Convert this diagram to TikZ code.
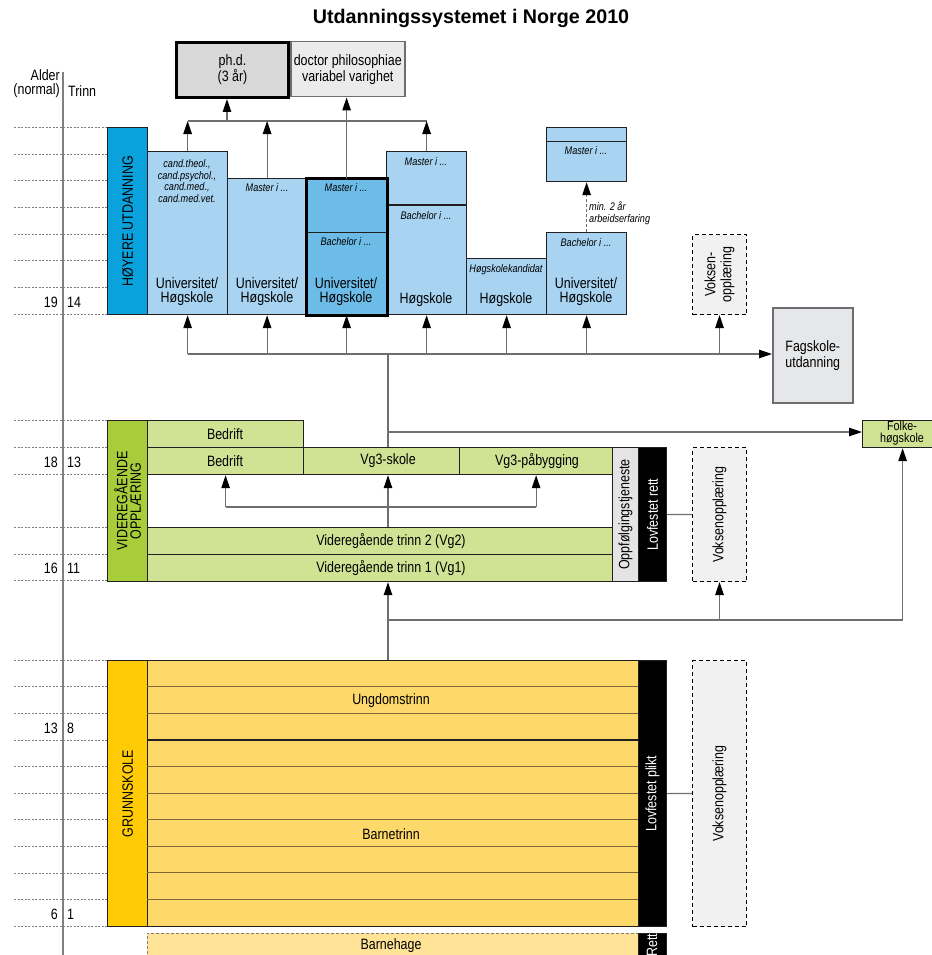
\documentclass[tikz,border=0pt]{standalone}
\usepackage{fontspec}
\setmainfont{Liberation Sans}[FakeStretch=0.83]
\newfontfamily\titlefont{Liberation Sans}
\usepackage{xcolor}
\definecolor{hoyblue}{HTML}{0AA2DC}
\definecolor{uhblue}{HTML}{A8D4F1}
\definecolor{uhdark}{HTML}{6DBCE7}
\definecolor{vgsgreen}{HTML}{A8CD3A}
\definecolor{vgslight}{HTML}{D0E294}
\definecolor{gsyellow}{HTML}{FFCB05}
\definecolor{gslight}{HTML}{FDD86B}
\definecolor{bhlight}{HTML}{FFE497}
\definecolor{phdgray}{HTML}{D8D8D9}
\definecolor{drgray}{HTML}{EBEBEC}
\definecolor{faggray}{HTML}{E6E7E8}
\definecolor{voxgray}{HTML}{F1F1F2}
\definecolor{oppgray}{HTML}{E4E4E5}
\definecolor{linegray}{HTML}{6D6E71}
\definecolor{edge}{HTML}{231F20}
\definecolor{rowline}{HTML}{7D6A3A}
\usepackage{tikz}
\usetikzlibrary{arrows.meta}

\tikzset{
  box/.style={draw=edge, line width=1.2pt, inner sep=0pt, anchor=north west},
  uhbox/.style={box, fill=uhblue},
  vgbox/.style={box, fill=vgslight},
  voxbox/.style={box, draw=black, dash pattern=on 4pt off 3pt, fill=voxgray, line width=1pt},
  rettbox/.style={box, fill=black},
  lbl/.style={inner sep=0pt, align=center, font=\fontsize{15}{16}\selectfont},
  tight/.style={lbl, font=\fontsize{15}{14}\selectfont},
  sml/.style={inner sep=0pt, align=center, font=\fontsize{11}{11.8}\selectfont\itshape},
  conn/.style={draw=linegray, line width=1.2pt},
  arr/.style={conn, -{Triangle[length=13pt, width=8.5pt, color=black]}},
  grid/.style={draw=gray, line width=0.6pt, dash pattern=on 2pt off 1.5pt},
}

\begin{document}
\begin{tikzpicture}[x=1pt, y=-1pt]
\useasboundingbox (0,0) rectangle (931,955);

\node[font=\titlefont\bfseries\fontsize{19.7}{22}\selectfont] (title) at (471,18) {Utdanningssystemet i Norge 2010};

% age / level axis
\draw[draw=gray, line width=1.5pt] (63,72) -- (63,955);
\node[lbl, anchor=east] (alder) at (60,75) {Alder};
\node[lbl, anchor=east] (normal) at (60,91) {(normal)};
\node[lbl, anchor=west] (trinn) at (68,91) {Trinn};
\foreach \y in {127.3,154,180.7,207.3,234,260.7,287.3,314,420,447.3,474,527.3,554,580.7,660,686.6,713.2,739.8,766.4,793,819.6,846.2,872.8,899.4,926}
  \draw[grid] (14,\y) -- (107,\y);
\foreach \y/\a/\t in {302/19/14, 462/18/13, 568/16/11, 728/13/8, 914/6/1} {
  \node[lbl, anchor=east] (a\a) at (58,\y) {\a};
  \node[lbl, anchor=west] (t\t) at (67,\y) {\t};
}

% doctorates
\node[box, fill=phdgray, draw=black, line width=3pt, minimum width=112pt, minimum height=55pt] (phd) at (175,41) {};
\node[lbl] (phdt) at (phd.center) {ph.d.\\(3 år)};
\node[box, fill=drgray, draw=linegray, line width=1.5pt, minimum width=114pt, minimum height=55pt] (drphil) at (290,41) {};
\node[lbl] (drphilt) at (drphil.center) {doctor philosophiae\\variabel varighet};

% hoyere utdanning
\node[box, fill=hoyblue, minimum width=40pt, minimum height=187pt] (hoy) at (107,127) {};
\node[lbl, rotate=90] (hoyt) at (hoy.center) {HØYERE UTDANNING};

\node[uhbox, minimum width=80pt, minimum height=163pt] (uh1) at (147,151) {};
\node[uhbox, minimum width=79pt, minimum height=136pt] (uh2) at (227,178) {};
\node[uhbox, minimum width=80pt, minimum height=163pt] (uh4) at (386,151) {};
\draw[draw=edge, line width=1.2pt] (uh4.west |- 0,205) -- (uh4.east |- 0,205);
\node[uhbox, minimum width=80pt, minimum height=56pt] (uh5) at (466,258) {};
\node[uhbox, minimum width=80pt, minimum height=82pt] (uh6) at (546,232) {};
\node[uhbox, minimum width=80pt, minimum height=14pt] (uh7a) at (546,127) {};
\node[uhbox, minimum width=80pt, minimum height=40pt] (uh7m) at (546,141) {};
\node[box, fill=uhdark, minimum width=80pt, minimum height=54pt] (uh3m) at (306,178) {};
\node[box, fill=uhdark, minimum width=80pt, minimum height=82pt] (uh3b) at (306,232) {};
\draw[draw=black, line width=3pt] (uh3m.north west) rectangle (uh3b.south east);

\node[sml] (uh1c) at (187,181) {cand.theol.,\\cand.psychol.,\\cand.med.,\\cand.med.vet.};
\node[tight] (uh1t) at (187,292) {Universitet/\\Høgskole};
\node[sml] (uh2m) at (267,188) {Master i ...};
\node[tight] (uh2t) at (267,292) {Universitet/\\Høgskole};
\node[sml] (uh3mt) at (346,188) {Master i ...};
\node[sml] (uh3bt) at (346,242) {Bachelor i ...};
\node[tight] (uh3t) at (346,292) {Universitet/\\Høgskole};
\node[sml] (uh4m) at (426,162) {Master i ...};
\node[sml] (uh4b) at (426,216) {Bachelor i ...};
\node[lbl] (uh4t) at (426,300) {Høgskole};
\node[sml] (uh5k) at (506,270) {Høgskolekandidat};
\node[lbl] (uh5t) at (506,300) {Høgskole};
\node[sml] (uh6b) at (586,243) {Bachelor i ...};
\node[tight] (uh6t) at (586,292) {Universitet/\\Høgskole};
\node[sml] (uh7t) at (586,151) {Master i ...};
\node[sml, anchor=west, align=left] (erfaring) at (589,213) {min. 2 år\\arbeidserfaring};

\node[voxbox, minimum width=54pt, minimum height=80pt] (vo1) at (692,234) {};
\node[lbl, rotate=90] (vo1t) at (vo1.center) {Voksen-\\opplæring};
\node[box, fill=faggray, draw=linegray, line width=1.5pt, minimum width=80pt, minimum height=95pt] (fag) at (772,307) {};
\node[lbl] (fagt) at (fag.center) {Fagskole-\\utdanning};

% connectors to doctorates
\coordinate (jtop) at (227,121);
\draw[conn] (uh1.north |- jtop) -- (uh4.north |- jtop);
\draw[arr] (uh1.north) -- (uh1.north |- jtop);
\draw[arr] (uh2.north) -- (uh2.north |- jtop);
\draw[arr] (uh4.north) -- (uh4.north |- jtop);
\draw[arr] (jtop) -- (jtop |- phd.south);
\draw[arr] (uh3m.north) -- (uh3m.north |- drphil.south);
\draw[arr, dash pattern=on 3pt off 2pt] (uh6.north) -- (uh7m.south);

% from videregaende to higher education
\coordinate (jmid) at (388,354);
\draw[arr] (uh1.south |- jmid) -- (fag.west |- jmid);
\foreach \n in {uh1,uh2,uh3b,uh4,uh5,uh6,vo1}
  \draw[arr] (\n.south |- jmid) -- (\n.south);

% videregaende opplaering
\node[box, fill=vgsgreen, minimum width=40pt, minimum height=161pt] (vgs) at (107,420) {};
\node[lbl, rotate=90, font=\fontsize{15}{13.5}\selectfont] (vgst) at (vgs.center) {VIDEREGÅENDE\\OPPLÆRING};
\node[vgbox, minimum width=156pt, minimum height=27pt] (bed1) at (147,420) {};
\node[vgbox, minimum width=156pt, minimum height=27pt] (bed2) at (147,447) {};
\node[vgbox, minimum width=156pt, minimum height=27pt] (vg3s) at (303,447) {};
\node[vgbox, minimum width=153pt, minimum height=27pt] (vg3p) at (459,447) {};
\node[vgbox, minimum width=465pt, minimum height=27pt] (vg2) at (147,527) {};
\node[vgbox, minimum width=465pt, minimum height=27pt] (vg1) at (147,554) {};
\node[box, fill=oppgray, minimum width=26pt, minimum height=134pt] (oppf) at (612,447) {};
\node[rettbox, minimum width=28pt, minimum height=134pt] (lrett) at (638,447) {};
\node[voxbox, minimum width=54pt, minimum height=134pt] (vo2) at (692,447) {};
\node[box, fill=vgslight, minimum width=80pt, minimum height=27pt] (folk) at (862,420) {};

\node[lbl] (bed1t) at (225,434) {Bedrift};
\node[lbl] (bed2t) at (225,461) {Bedrift};
\node[lbl] (vg3st) at (388,461) {Vg3-skole};
\node[lbl] (vg3pt) at (537,461) {Vg3-påbygging};
\node[lbl] (vg2t) at (391,541) {Videregående trinn 2 (Vg2)};
\node[lbl] (vg1t) at (391,568) {Videregående trinn 1 (Vg1)};
\node[lbl, rotate=90] (oppft) at (oppf.center) {Oppfølgingstjeneste};
\node[lbl, rotate=90, text=white] (lrettt) at (lrett.center) {Lovfestet rett};
\node[lbl, rotate=90] (vo2t) at (vo2.center) {Voksenopplæring};
\node[lbl, font=\fontsize{13}{11.5}\selectfont] (folkt) at (902,433) {Folke-\\høgskole};

\draw[conn] (jmid) -- (jmid |- vg3s.north);
\coordinate (jfolk) at (388,432);
\draw[arr] (jfolk) -- (folk.west |- jfolk);
\coordinate (jvg) at (388,507);
\draw[arr] (jvg |- vg2.north) -- (jvg |- vg3s.south);
\draw[conn] (bed2.south |- jvg) -- (vg3p.south |- jvg);
\draw[arr] (bed2.south |- jvg) -- (bed2.south);
\draw[arr] (vg3p.south |- jvg) -- (vg3p.south);
\draw[conn] (lrett.east) -- (vo2.west);

% grunnskole
\node[box, fill=gsyellow, minimum width=40pt, minimum height=266pt] (gs) at (107,660) {};
\node[lbl, rotate=90] (gst) at (gs.center) {GRUNNSKOLE};
\node[box, fill=gslight, minimum width=491pt, minimum height=266pt] (gsk) at (147,660) {};
\foreach \y in {686.6,713.2,766.4,793,819.6,846.2,872.8,899.4}
  \draw[draw=rowline, line width=0.9pt] (147,\y) -- (638,\y);
\draw[draw=edge, line width=1.6pt] (147,739.8) -- (638,739.8);
\node[lbl] (ungt) at (391,701) {Ungdomstrinn};
\node[lbl] (barnt) at (391,834) {Barnetrinn};
\node[rettbox, minimum width=28pt, minimum height=266pt] (lplikt) at (638,660) {};
\node[lbl, rotate=90, text=white] (lplikt t) at (lplikt.center) {Lovfestet plikt};
\node[voxbox, minimum width=54pt, minimum height=266pt] (vo3) at (692,660) {};
\node[lbl, rotate=90] (vo3t) at (vo3.center) {Voksenopplæring};
\draw[conn] (lplikt.east) -- (vo3.west);

% from grunnskole
\coordinate (jlow) at (388,620);
\draw[arr] (jlow |- gsk.north) -- (jlow |- vg1.south);
\draw[conn] (jlow) -- (folk.south |- jlow);
\draw[arr] (vo2.south |- jlow) -- (vo2.south);
\draw[arr] (folk.south |- jlow) -- (folk.south);

% barnehage
\node[box, fill=bhlight, draw=gray, line width=0.8pt, dash pattern=on 3pt off 2pt, minimum width=491pt, minimum height=40pt] (bh) at (147,933) {};
\node[lbl] (bht) at (391,946) {Barnehage};
\node[rettbox, minimum width=28pt, minimum height=40pt] (rett) at (638,933) {};
\node[lbl, rotate=90, text=white] (rettt) at (652,945) {Rett};
\end{tikzpicture}
\end{document}
